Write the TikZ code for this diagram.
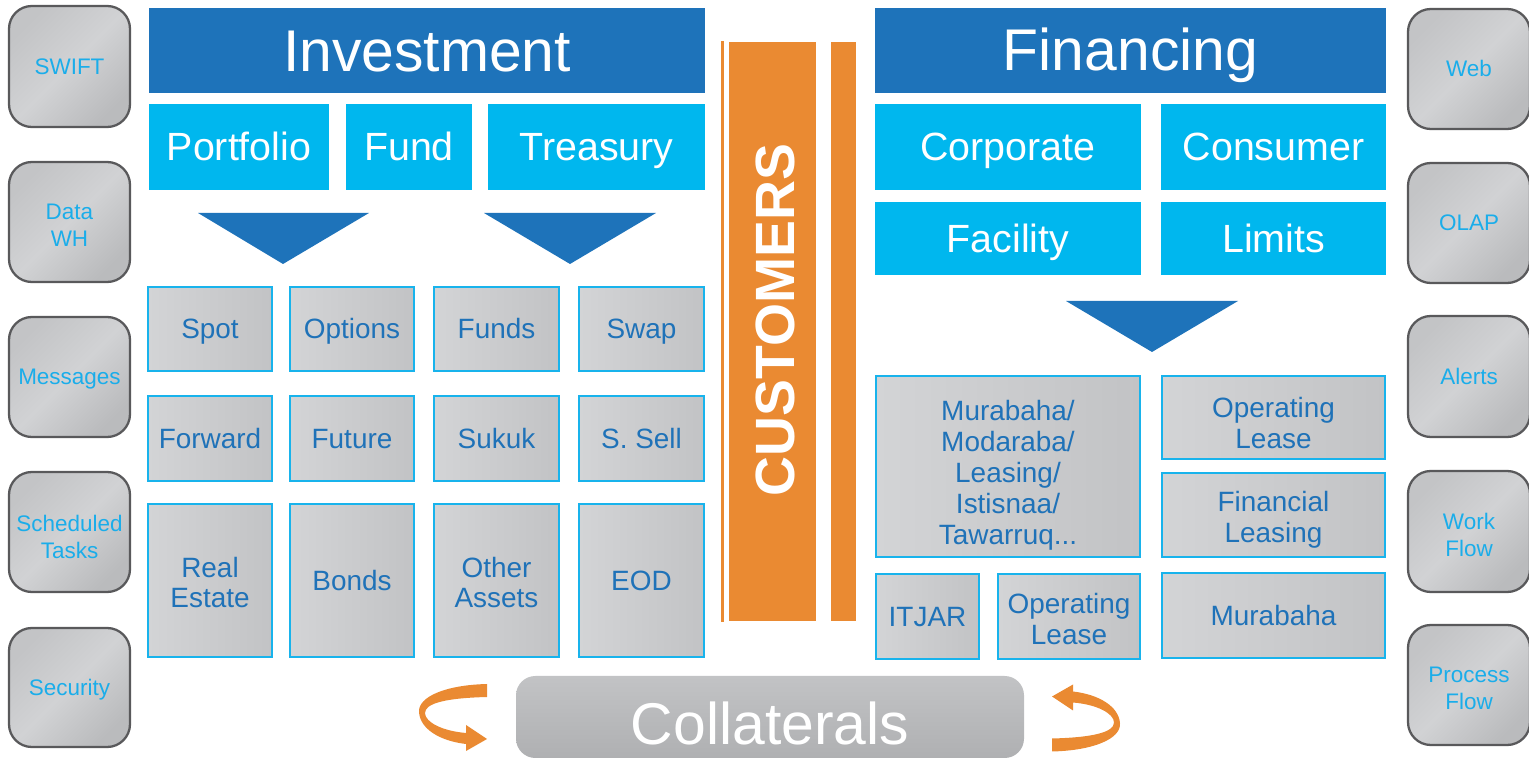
\documentclass[tikz,border=0pt]{standalone}
\usepackage{fontspec}
\setmainfont{Liberation Sans}
\definecolor{dblue}{HTML}{1E73BA}
\definecolor{lblue}{HTML}{00B7EE}
\definecolor{cyanb}{HTML}{18B3EC}
\definecolor{tblue}{HTML}{1F72B8}
\definecolor{btext}{HTML}{1AADEA}
\definecolor{orng}{HTML}{EA8A32}
\definecolor{gL}{HTML}{D3D4D6}
\definecolor{gR}{HTML}{C2C3C5}
\definecolor{bA}{HTML}{C3C4C6}
\definecolor{bM}{HTML}{D1D2D4}
\definecolor{bB}{HTML}{BABBBD}
\definecolor{bord}{HTML}{59595B}
\definecolor{cT}{HTML}{C2C3C5}
\definecolor{cM}{HTML}{D0D1D3}
\definecolor{cB}{HTML}{AFB0B2}
\newcommand\mystrut{\rule[-0.2em]{0pt}{1.1em}}
\newcommand\tp[1]{\rule{0pt}{#1}}
\tikzset{
  st/.style={execute at begin node=\mystrut, execute at end node=\mystrut},
  hdr/.style={st, fill=dblue, text=white, inner sep=0pt, font=\fontsize{33.5}{40}\selectfont},
  sub/.style={st, fill=lblue, text=white, inner sep=0pt, font=\fontsize{22.4}{27}\selectfont},
  gbox/.style={st, draw=cyanb, line width=1.4pt, left color=gL, right color=gR, text=tblue,
     inner sep=0pt, align=center, font=\fontsize{15.9}{17.6}\selectfont},
  btn/.style={st, draw=bord, line width=1.3pt, rounded corners=13pt, top color=bA, bottom color=bB,
     middle color=bM, shading angle=45, text=btext, inner sep=0pt, align=center,
     font=\fontsize{12.8}{15.3}\selectfont},
  coll/.style={st, execute at begin node={\rule{0pt}{1.13em}}, rounded corners=11pt,
     top color=cT, middle color=cM, bottom color=cB, text=white,
     inner sep=0pt, font=\fontsize{33.5}{40}\selectfont},
  tri/.style={fill=dblue},
  orbar/.style={fill=orng},
}
\newcommand\bx[7]{\node[#6, minimum width={(#4-#2)*0.02cm}, minimum height={(#5-#3)*0.02cm}] (#1) at ({(#2+#4)/2},{(#3+#5)/2}) {#7};}
\begin{document}
\begin{tikzpicture}[x=0.02cm, y=-0.02cm]
\useasboundingbox (0,0) rectangle (1529,759);
% left buttons
\bx{swift}{9}{6}{130}{127}{btn}{SWIFT}
\bx{datawh}{9}{162}{130}{282}{btn}{\tp{15.5pt}Data\\WH}
\bx{messages}{9}{317}{130}{437}{btn}{Messages}
\bx{sched}{9}{472}{130}{592}{btn}{\tp{17pt}Scheduled\\Tasks}
\bx{security}{9}{628}{130}{747}{btn}{Security}
% right buttons
\bx{web}{1408}{9}{1530}{129}{btn}{Web}
\bx{olap}{1408}{163}{1530}{283}{btn}{OLAP}
\bx{alerts}{1408}{316}{1530}{437}{btn}{Alerts}
\bx{workflow}{1408}{471}{1530}{592}{btn}{\tp{15.5pt}Work\\Flow}
\bx{procflow}{1408}{625}{1530}{745}{btn}{\tp{15.5pt}Process\\Flow}
% headers
\bx{invest}{149}{8}{705}{93}{hdr}{Investment}
\bx{financ}{875}{8}{1386}{93}{hdr}{Financing}
% sub headers
\bx{portfolio}{149}{104}{329}{190}{sub}{Portfolio}
\bx{fund}{346}{104}{472}{190}{sub}{Fund}
\bx{treasury}{488}{104}{705}{190}{sub}{Treasury}
\bx{corporate}{875}{104}{1141}{190}{sub}{Corporate}
\bx{consumer}{1161}{104}{1386}{190}{sub}{Consumer}
\bx{facility}{875}{202}{1141}{275}{sub}{Facility}
\bx{limits}{1161}{202}{1386}{275}{sub}{Limits}
% triangles
\fill[tri] (198,213) -- (369,213) -- (283,264) -- cycle;
\fill[tri] (484,213) -- (656,213) -- (570,264) -- cycle;
\fill[tri] (1066,301) -- (1238,301) -- (1152,352) -- cycle;
% investment grid
\bx{spot}{148}{287}{272}{371}{gbox}{Spot}
\bx{options}{290}{287}{414}{371}{gbox}{Options}
\bx{funds}{434}{287}{559}{371}{gbox}{Funds}
\bx{swap}{579}{287}{704}{371}{gbox}{Swap}
\bx{forward}{148}{396}{272}{481}{gbox}{Forward}
\bx{future}{290}{396}{414}{481}{gbox}{Future}
\bx{sukuk}{434}{396}{559}{481}{gbox}{Sukuk}
\bx{ssell}{579}{396}{704}{481}{gbox}{S. Sell}
\bx{realestate}{148}{504}{272}{657}{gbox}{\tp{16.8pt}Real\\Estate}
\bx{bonds}{290}{504}{414}{657}{gbox}{Bonds}
\bx{otherassets}{434}{504}{559}{657}{gbox}{\tp{16.8pt}Other\\Assets}
\bx{eod}{579}{504}{704}{657}{gbox}{EOD}
% financing grid
\bx{murabahamulti}{876}{376}{1140}{557}{gbox}{\tp{21.8pt}Murabaha/\\Modaraba/\\Leasing/\\Istisnaa/\\Tawarruq...}
\bx{oplease}{1162}{376}{1385}{459}{gbox}{\tp{20.6pt}Operating\\Lease}
\bx{finleasing}{1162}{473}{1385}{557}{gbox}{\tp{17.2pt}Financial\\Leasing}
\bx{itjar}{876}{574}{979}{659}{gbox}{ITJAR}
\bx{oplease2}{998}{574}{1140}{659}{gbox}{\tp{17.2pt}Operating\\Lease}
\bx{murabaha}{1162}{573}{1385}{658}{gbox}{Murabaha}
% customers
\fill[orbar] (721,41) rectangle (724,622);
\bx{custbar}{729}{42}{816}{621}{orbar}{}
\fill[orbar] (831,42) rectangle (856,621);
\node[rotate=90, text=white, font=\bfseries\fontsize{31.5}{36}\selectfont] (customers) at (775,320) {CUSTOMERS};
% collaterals
\bx{collaterals}{516}{676}{1024}{758}{coll}{Collaterals}
% curved arrows
\def\carrow{(487,684) .. controls (445,685) and (418,697) .. (419,712)
   .. controls (420,729) and (440,741) .. (466,744) -- (466,751) -- (487,739) -- (466,725) -- (466,733)
   .. controls (442,731) and (425,722) .. (425,713)
   .. controls (425,703) and (447,698) .. (487,697) -- cycle}
\fill[orng] \carrow;
\fill[orng, rotate around={180:(769.5,717.75)}] \carrow;
\end{tikzpicture}
\end{document}
